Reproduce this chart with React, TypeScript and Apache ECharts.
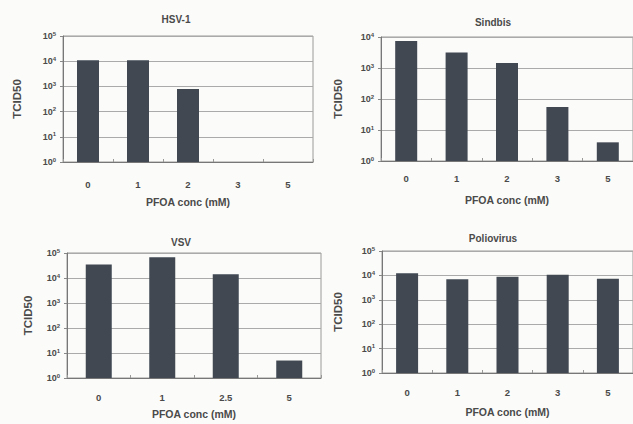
import React, { useEffect, useRef } from "react";
import * as echarts from "echarts";

const hsvCats = ["0", "1", "2", "3", "5"];
const hsvVals: (number | string)[] = [11000, 11000, 790, "-", "-"];
const sindbisCats = ["0", "1", "2", "3", "5"];
const sindbisVals = [7400, 3150, 1450, 55, 4];
const vsvCats = ["0", "1", "2.5", "5"];
const vsvVals = [35000, 67000, 14000, 5];
const polioCats = ["0", "1", "2", "3", "5"];
const polioVals = [12300, 6900, 8900, 10700, 7300];

const titles = ["HSV-1", "Sindbis", "VSV", "Poliovirus"];
const yMaxes = [100000, 10000, 100000, 100000];
const xName = "PFOA conc (mM)";
const yName = "TCID50";

const TEXT = "#4a4a4a";
const BAR = "#414852";
const FONT = "Liberation Sans, Arial, sans-serif";

export default function App() {
  const ref = useRef<HTMLDivElement>(null);
  useEffect(() => {
    if (!ref.current) return;
    const chart = echarts.init(ref.current, undefined, { renderer: "svg" });

    const panels = [
      { cats: hsvCats, vals: hsvVals, grid: { left: 63, top: 36, width: 250, height: 126 }, title: [171, 9], labelMargin: 17, nameGap: 34, yGap: 40, barWidth: 22 },
      { cats: sindbisCats, vals: sindbisVals, grid: { left: 381, top: 37, width: 256, height: 124 }, title: [488, 12], labelMargin: 12, nameGap: 33, yGap: 37, barWidth: 22 },
      { cats: vsvCats, vals: vsvVals, grid: { left: 67, top: 253, width: 254, height: 125 }, title: [176, 232], labelMargin: 14, nameGap: 30, yGap: 33, barWidth: 26 },
      { cats: polioCats, vals: polioVals, grid: { left: 382, top: 251, width: 254, height: 122 }, title: [488, 228], labelMargin: 14, nameGap: 33, yGap: 38, barWidth: 22 },
    ];

    const option: any = {
      animation: false,
      backgroundColor: "#fbfbf9",
      textStyle: { fontFamily: FONT },
      title: panels.map((p, i) => ({
        text: titles[i],
        left: p.title[0],
        top: p.title[1],
        textAlign: "center",
        textStyle: { fontSize: 10, fontWeight: "bold", color: TEXT, fontFamily: FONT },
      })),
      grid: panels.map((p) => ({
        ...p.grid,
        show: true,
        borderColor: "#9a9a9a",
        borderWidth: 1,
        backgroundColor: "transparent",
        containLabel: false,
      })),
      xAxis: panels.map((p, i) => ({
        type: "category",
        gridIndex: i,
        data: p.cats,
        name: xName,
        nameLocation: "middle",
        nameGap: p.nameGap,
        nameTextStyle: { fontSize: 10.5, fontWeight: "bold", color: TEXT, fontFamily: FONT },
        axisLine: { lineStyle: { color: "#777", width: 1 } },
        axisTick: { show: true, inside: true, length: 3, lineStyle: { color: "#999" } },
        axisLabel: { fontSize: 9.5, fontWeight: "bold", color: TEXT, margin: p.labelMargin, fontFamily: FONT },
        splitLine: { show: false },
      })),
      yAxis: panels.map((p, i) => ({
        type: "log",
        logBase: 10,
        gridIndex: i,
        min: 1,
        max: yMaxes[i],
        name: yName,
        nameLocation: "middle",
        nameGap: p.yGap,
        nameRotate: 90,
        nameTextStyle: { fontSize: 11.5, fontWeight: "bold", color: TEXT, fontFamily: FONT },
        axisLine: { show: true, lineStyle: { color: "#777", width: 1 } },
        axisTick: { show: true, length: 3, lineStyle: { color: "#888" } },
        splitLine: { show: true, lineStyle: { color: "#aaa", width: 1 } },
        axisLabel: {
          margin: 7,
          formatter: (v: number) => `{b|10}{s|${Math.round(Math.log10(v))}}`,
          rich: {
            b: { fontSize: 9, color: TEXT, fontFamily: FONT, fontWeight: "bold" },
            s: { fontSize: 6, color: TEXT, fontFamily: FONT, fontWeight: "bold", padding: [0, 0, 5, 0] },
          },
        },
      })),
      series: panels.map((p, i) => ({
        type: "bar",
        xAxisIndex: i,
        yAxisIndex: i,
        data: p.vals,
        barWidth: p.barWidth,
        itemStyle: { color: BAR },
      })),
    };

    chart.setOption(option);
    return () => chart.dispose();
  }, []);

  return (
    <div
      ref={ref}
      style={{ position: "fixed", left: 0, top: 0, width: 633, height: 424 }}
    />
  );
}
